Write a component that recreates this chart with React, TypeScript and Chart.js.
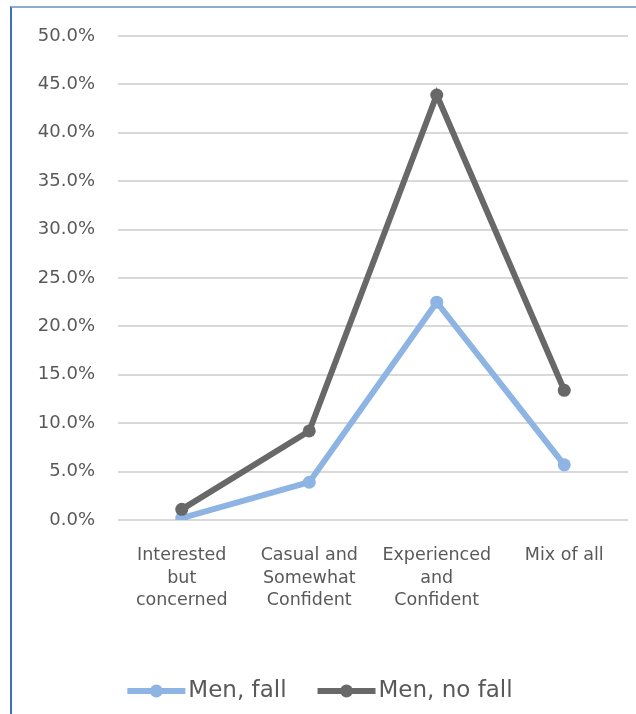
import React, { useEffect, useRef } from "react";
import { Chart, registerables } from "chart.js";

Chart.register(...registerables);

const categories: string[][] = [
  ["Interested", "but", "concerned"],
  ["Casual and", "Somewhat", "Confident"],
  ["Experienced", "and", "Confident"],
  ["Mix of all"],
];
const menFall: number[] = [0.2, 3.9, 22.5, 5.7];
const menNoFall: number[] = [1.1, 9.2, 43.9, 13.4];
const seriesNames: string[] = ["Men, fall", "Men, no fall"];
const yMin = 0;
const yMax = 50;
const yStep = 5;

const FONT = "'DejaVu Sans', sans-serif";
const TEXT = "#595959";
const BLUE = "#8DB4E2";
const GREY = "#686868";

const legendPlugin = {
  id: "customLegend",
  afterDraw(chart: any) {
    const ctx = chart.ctx as CanvasRenderingContext2D;
    const items = [
      { label: seriesNames[0], color: BLUE },
      { label: seriesNames[1], color: GREY },
    ];
    ctx.save();
    ctx.font = `23px ${FONT}`;
    const lineLen = 58;
    const gap = 3;
    const itemGap = 31;
    const widths = items.map((it) => lineLen + gap + ctx.measureText(it.label).width);
    const total = widths.reduce((a, b) => a + b, 0) + itemGap * (items.length - 1);
    let x = chart.width / 2 - total / 2 + 2;
    const y = 691;
    items.forEach((it, i) => {
      ctx.strokeStyle = it.color;
      ctx.lineWidth = 6;
      ctx.beginPath();
      ctx.moveTo(x, y);
      ctx.lineTo(x + lineLen, y);
      ctx.stroke();
      ctx.fillStyle = it.color;
      ctx.beginPath();
      ctx.arc(x + lineLen / 2, y, 6.5, 0, Math.PI * 2);
      ctx.fill();
      ctx.fillStyle = TEXT;
      ctx.textBaseline = "middle";
      ctx.textAlign = "left";
      ctx.fillText(it.label, x + lineLen + gap, y);
      x += widths[i] + itemGap;
    });
    ctx.restore();
  },
};

export default function App() {
  const ref = useRef<HTMLCanvasElement>(null);
  useEffect(() => {
    if (!ref.current) return;
    const chart = new Chart(ref.current, {
      type: "line",
      data: {
        labels: categories,
        datasets: [
          {
            label: seriesNames[0],
            data: menFall,
            borderColor: BLUE,
            backgroundColor: BLUE,
            borderWidth: 6,
            pointRadius: 6.5,
            pointBorderWidth: 0,
            pointBackgroundColor: BLUE,
            order: 1,
          },
          {
            label: seriesNames[1],
            data: menNoFall,
            borderColor: GREY,
            backgroundColor: GREY,
            borderWidth: 6,
            pointRadius: 6.5,
            pointBorderWidth: 0,
            pointBackgroundColor: GREY,
            order: 0,
          },
        ],
      },
      options: {
        responsive: false,
        animation: false,
        layout: { padding: { top: 36, right: 8, bottom: 94, left: 0 } },
        plugins: { legend: { display: false }, tooltip: { enabled: false } },
        scales: {
          x: {
            offset: true,
            grid: { display: false, offset: true },
            border: { display: false },
            ticks: {
              color: TEXT,
              font: { family: FONT, size: 17.5, lineHeight: 1.3 },
              padding: 16,
              maxRotation: 0,
              autoSkip: false,
            },
            afterFit: (s: any) => {
              s.height = 100;
            },
          },
          y: {
            min: yMin,
            max: yMax,
            grid: { color: "#D9D9D9", lineWidth: 2, drawTicks: false },
            border: { display: false },
            ticks: {
              stepSize: yStep,
              color: TEXT,
              font: { family: FONT, size: 18 },
              padding: 23,
              callback: (v: any) => Number(v).toFixed(1) + "%",
            },
            afterFit: (s: any) => {
              s.width = 118;
            },
          },
        },
      },
      plugins: [legendPlugin],
    });
    return () => chart.destroy();
  }, []);
  return (
    <div style={{ position: "fixed", left: 0, top: 0, width: 636, height: 714, background: "#fff", overflow: "hidden" }}>
      <div
        style={{
          position: "absolute",
          left: 10,
          top: 6,
          width: 700,
          height: 800,
          borderLeft: "2px solid #3C70B8",
          borderTop: "2px solid #8AABD6",
        }}
      />
      <canvas ref={ref} width={636} height={714} style={{ position: "absolute", left: 0, top: 0 }} />
    </div>
  );
}
